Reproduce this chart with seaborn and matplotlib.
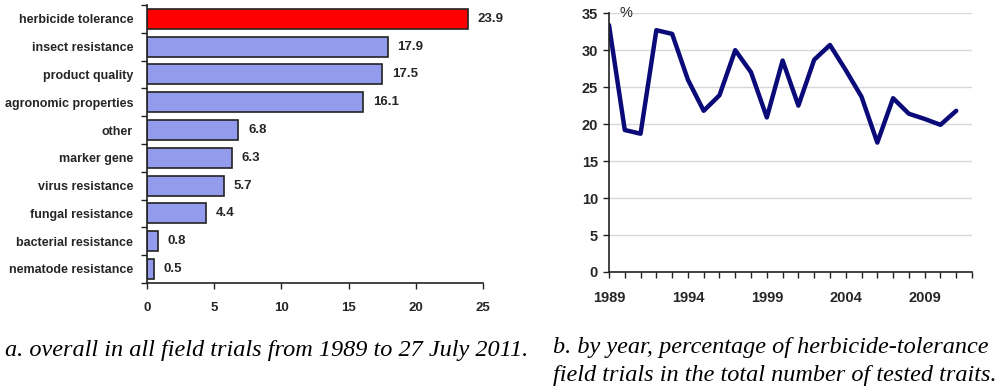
import pandas as pd
import matplotlib.pyplot as plt
import seaborn as sns
import numpy as np

# trait categories, overall share (%)
traits = ['herbicide tolerance', 'insect resistance', 'product quality',
          'agronomic properties', 'other', 'marker gene', 'virus resistance',
          'fungal resistance', 'bacterial resistance', 'nematode resistance']
shares = [23.9, 17.9, 17.5, 16.1, 6.8, 6.3, 5.7, 4.4, 0.8, 0.5]

# herbicide tolerance share by year (%)
years = list(range(1989, 2012))
ht_pct = [33.4, 19.2, 18.7, 32.7, 32.2, 26.0, 21.8, 23.9, 30.0, 27.0, 20.9, 28.6,
          22.5, 28.7, 30.7, 27.3, 23.7, 17.5, 23.5, 21.4, 20.7, 19.9, 21.8]

sns.set_style('white')
plt.rcParams['font.family'] = ['Liberation Sans', 'DejaVu Sans']

fig = plt.figure(figsize=(10, 3.88), dpi=100)

# a. bar chart
ax1 = fig.add_axes([0.147, 0.271, 0.336, 0.716])
df_bar = pd.DataFrame({'trait': traits, 'share': shares})
df_bar['grp'] = ['top'] + ['rest'] * (len(traits) - 1)
sns.barplot(data=df_bar, y='trait', x='share', hue='grp', orient='h',
            palette={'top': '#FF0000', 'rest': '#939BEC'}, dodge=False, saturation=1,
            edgecolor='#222222', linewidth=1.2, width=0.72, legend=False, ax=ax1)
ax1.set_xlim(0, 25)
ax1.set_ylim(9.5, -0.5)
ax1.set_xlabel('')
ax1.set_ylabel('')
ax1.set_xticks(range(0, 26, 5))
ax1.set_yticks(np.arange(-0.5, 10, 1), minor=True)
ax1.tick_params(axis='y', which='major', left=False, length=0, pad=10)
ax1.tick_params(axis='y', which='minor', left=True, length=4, width=1, direction='out', color='#222222')
ax1.tick_params(axis='x', bottom=True, length=4, width=1, direction='out', color='#222222', pad=10)
for lbl in ax1.get_yticklabels():
    lbl.set_fontweight('bold')
    lbl.set_fontsize(9)
for lbl in ax1.get_xticklabels():
    lbl.set_fontweight('bold')
    lbl.set_fontsize(9.5)
for s in ['top', 'right']:
    ax1.spines[s].set_visible(False)
for s in ['left', 'bottom']:
    ax1.spines[s].set_color('#222222')
    ax1.spines[s].set_linewidth(1.2)
for i, v in enumerate(shares):
    ax1.annotate(f'{v}', (v, i), xytext=(7, 0), textcoords='offset points',
                 va='center', ha='left', fontsize=9.5, fontweight='bold')

# b. line chart
ax2 = fig.add_axes([0.609, 0.299, 0.363, 0.667])
df_line = pd.DataFrame({'year': years, 'pct': ht_pct})
sns.lineplot(data=df_line, x='year', y='pct', color='#0A0A78', linewidth=3.2, ax=ax2)
ax2.set_xlim(1989, 2012)
ax2.set_ylim(0, 35)
ax2.set_xlabel('')
ax2.set_ylabel('')
ax2.set_yticks(range(0, 36, 5))
ax2.set_xticks(range(1989, 2010, 5))
ax2.set_xticks(range(1989, 2013), minor=True)
ax2.yaxis.grid(True, color='#D8D8D8', linewidth=1)
ax2.tick_params(axis='x', which='both', bottom=True, length=4, width=1, direction='out', color='#222222', pad=10)
ax2.tick_params(axis='y', left=True, length=4, width=1, direction='out', color='#222222', pad=4)
for lbl in ax2.get_yticklabels() + ax2.get_xticklabels():
    lbl.set_fontweight('bold')
    lbl.set_fontsize(10.5)
for s in ['top', 'right']:
    ax2.spines[s].set_visible(False)
for s in ['left', 'bottom']:
    ax2.spines[s].set_color('#222222')
    ax2.spines[s].set_linewidth(1.2)
ax2.text(0.03, 1.0, '%', transform=ax2.transAxes, fontsize=10.5, va='center', ha='left')

# captions
cap = dict(family=['Liberation Serif', 'DejaVu Serif'], style='italic', fontsize=17.5, color='black')
fig.text(0.005, 0.097, 'a. overall in all field trials from 1989 to 27 July 2011.', ha='left', va='center', **cap)
fig.text(0.553, 0.105, 'b. by year, percentage of herbicide-tolerance', ha='left', va='center', **cap)
fig.text(0.553, 0.033, 'field trials in the total number of tested traits.', ha='left', va='center', **cap)

fig.savefig('out.png', dpi=100)
